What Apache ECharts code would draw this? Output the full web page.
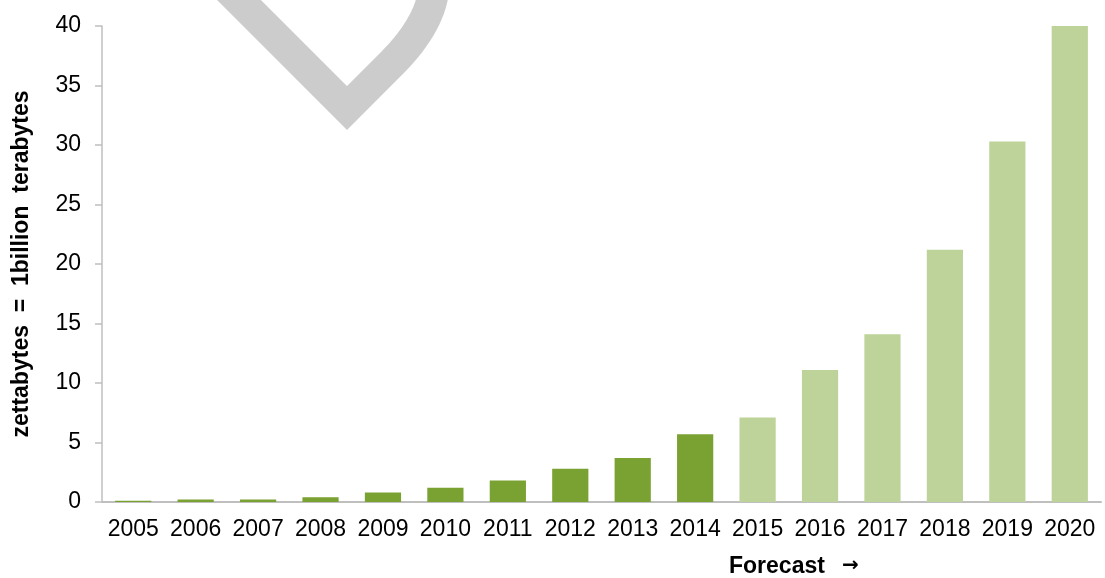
<!DOCTYPE html>
<html><head><meta charset="utf-8">
<script src="https://cdn.jsdelivr.net/npm/echarts@6/dist/echarts.min.js"></script>
<style>html,body{margin:0;padding:0;background:#fff}#c{width:1105px;height:578px}</style>
</head><body><div id="c"></div>
<script>
const years = ['2005','2006','2007','2008','2009','2010','2011','2012','2013','2014','2015','2016','2017','2018','2019','2020'];
const zettabytes = [0.1, 0.2, 0.2, 0.4, 0.8, 1.2, 1.8, 2.8, 3.7, 5.7, 7.1, 11.1, 14.1, 21.2, 30.3, 40.0];
const firstForecastYear = '2015';
const actualColor = '#7AA232';
const forecastColor = '#BDD39A';
const yTicks = [0, 5, 10, 15, 20, 25, 30, 35, 40];

const fIdx = years.indexOf(firstForecastYear);

// decorative heart stroke (partially off-canvas)
const heartPts = [[228, -11], [347, 108], [393, 62]];
(function () {
  const p0 = [393, 62], c = [432, 22], p1 = [434, -14];
  for (let i = 1; i <= 16; i++) {
    const t = i / 16, u = 1 - t;
    heartPts.push([u*u*p0[0] + 2*u*t*c[0] + t*t*p1[0], u*u*p0[1] + 2*u*t*c[1] + t*t*p1[1]]);
  }
})();

const chart = echarts.init(document.getElementById('c'));
chart.setOption({
  animation: false,
  grid: {left: 102, right: 4, top: 26, bottom: 76},
  xAxis: {
    type: 'category', data: years,
    axisLine: {lineStyle: {color: '#BFBFBF', width: 2}},
    axisTick: {show: false},
    axisLabel: {color: '#000', fontFamily: 'Liberation Sans, Arial', fontSize: 23, margin: 16, interval: 0}
  },
  yAxis: {
    type: 'value', min: yTicks[0], max: yTicks[yTicks.length-1], interval: 5,
    axisLine: {show: true, lineStyle: {color: '#BFBFBF', width: 1.5}},
    axisTick: {show: true, length: 7, lineStyle: {color: '#BFBFBF', width: 1.5}},
    splitLine: {show: false},
    axisLabel: {color: '#000', fontFamily: 'Liberation Sans, Arial', fontSize: 23, margin: 21},
    name: 'zettabytes  =  1billion  terabytes',
    nameLocation: 'middle', nameGap: 69,
    nameTextStyle: {color: '#000', fontFamily: 'Liberation Sans, Arial', fontSize: 23, fontWeight: 'bold'}
  },
  series: [{
    type: 'bar', barWidth: '58%',
    data: zettabytes.map((v, i) => ({value: v, itemStyle: {color: i >= fIdx ? forecastColor : actualColor}}))
  }],
  graphic: [
    {type: 'polyline', shape: {points: heartPts},
     style: {fill: null, stroke: '#CCCCCC', lineWidth: 31, lineJoin: 'miter', lineCap: 'butt'}, z: 10},
    {type: 'text', left: 729, top: 555,
     style: {text: 'Forecast', fill: '#000', font: 'bold 23px "Liberation Sans", Arial'}},
    {type: 'text', left: 842, top: 556,
     style: {text: '\u2192', fill: '#000', font: 'bold 20px "DejaVu Sans"'}}
  ]
});
</script></body></html>
